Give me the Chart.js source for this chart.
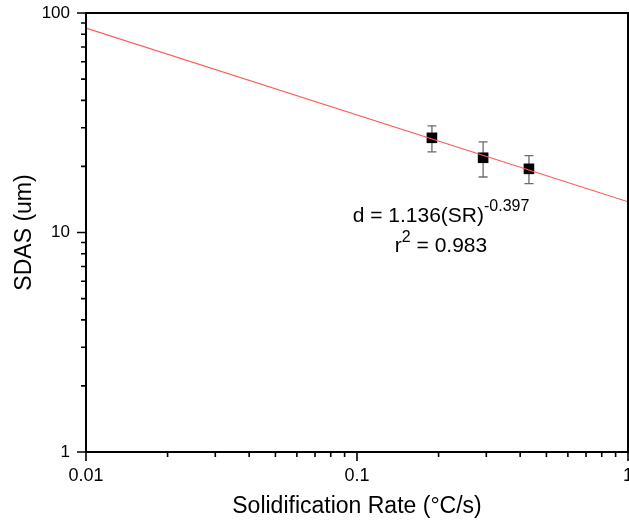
<!DOCTYPE html>
<html>
<head>
<meta charset="utf-8">
<script src="https://cdn.jsdelivr.net/npm/chart.js@4/dist/chart.umd.min.js"></script>
<style>
  html, body { margin: 0; padding: 0; background: #fff; }
  #wrap { width: 629px; height: 525px; }
</style>
</head>
<body>
<div id="wrap"><canvas id="sdasChart"></canvas></div>
<script>
// measured points
const solidRate = [0.189, 0.292, 0.431];
const sdas = [27.0, 21.9, 19.5];
const sdasHigh = [30.6, 25.9, 22.4];
const sdasLow = [23.3, 17.9, 16.7];

// fitted power-law line, end points
const fitRate = [0.01, 1];
const fitSdas = [85.4, 13.8];

const xTicks = [0.01, 0.1, 1];
const yTicks = [1, 10, 100];

const FONT = "'Liberation Sans', Arial, sans-serif";

function byId(id) {
  return document.getElementById(id);
}

function logTicks(major) {
  const out = [];
  for (let i = 0; i < major.length; i++) {
    out.push({ value: major[i], major: true });
    if (i < major.length - 1) {
      for (let k = 2; k <= 9; k++) out.push({ value: major[i] * k, major: false });
    }
  }
  return out;
}

const errorBars = {
  id: "errorBars",
  beforeDatasetsDraw(chart) {
    const { ctx, scales } = chart;
    ctx.save();
    ctx.strokeStyle = "#6b6b6b";
    ctx.lineWidth = 1.3;
    solidRate.forEach((x, i) => {
      const px = scales.x.getPixelForValue(x);
      const top = scales.y.getPixelForValue(sdasHigh[i]);
      const bot = scales.y.getPixelForValue(sdasLow[i]);
      ctx.beginPath();
      ctx.moveTo(px, top); ctx.lineTo(px, bot);
      ctx.moveTo(px - 4.5, top); ctx.lineTo(px + 4.5, top);
      ctx.moveTo(px - 4.5, bot); ctx.lineTo(px + 4.5, bot);
      ctx.stroke();
    });
    ctx.restore();
  }
};

const frameAndTicks = {
  id: "frameAndTicks",
  afterDraw(chart) {
    const { ctx, chartArea: a, scales } = chart;
    ctx.save();
    ctx.strokeStyle = "#000";
    ctx.lineWidth = 2;
    ctx.strokeRect(a.left, a.top, a.right - a.left, a.bottom - a.top);
    ctx.lineWidth = 1.6;
    ctx.beginPath();
    scales.x.ticks.forEach((t) => {
      const px = scales.x.getPixelForValue(t.value);
      ctx.moveTo(px, a.bottom);
      ctx.lineTo(px, a.bottom + (t.major ? 9 : 5));
    });
    scales.y.ticks.forEach((t) => {
      const py = scales.y.getPixelForValue(t.value);
      ctx.moveTo(a.left, py);
      ctx.lineTo(a.left - (t.major ? 9 : 5), py);
    });
    ctx.stroke();

    // fit equation
    const cx = 441;
    ctx.fillStyle = "#000";
    ctx.textBaseline = "alphabetic";
    ctx.textAlign = "left";
    ctx.font = "21px " + FONT;
    const main1 = "d = 1.136(SR)";
    const w1 = ctx.measureText(main1).width;
    ctx.font = "16px " + FONT;
    const sup1 = "-0.397";
    const ws1 = ctx.measureText(sup1).width;
    let sx = cx - (w1 + ws1) / 2;
    ctx.font = "21px " + FONT;
    ctx.fillText(main1, sx, 222);
    ctx.font = "16px " + FONT;
    ctx.fillText(sup1, sx + w1, 211);

    ctx.font = "21px " + FONT;
    const a2 = "r";
    const b2 = " = 0.983";
    const wa = ctx.measureText(a2).width;
    const wb = ctx.measureText(b2).width;
    ctx.font = "16px " + FONT;
    const ws2 = ctx.measureText("2").width;
    sx = cx - (wa + ws2 + wb) / 2;
    ctx.font = "21px " + FONT;
    ctx.fillText(a2, sx, 252);
    ctx.fillText(b2, sx + wa + ws2, 252);
    ctx.font = "16px " + FONT;
    ctx.fillText("2", sx + wa, 242);
    ctx.restore();
  }
};

new Chart(byId("sdasChart"), {
  type: "scatter",
  data: {
    datasets: [
      {
        type: "line",
        label: "Fit",
        data: fitRate.map((x, i) => ({ x, y: fitSdas[i] })),
        borderColor: "#ff5a5a",
        borderWidth: 1.2,
        pointRadius: 0,
        fill: false
      },
      {
        label: "SDAS",
        data: solidRate.map((x, i) => ({ x, y: sdas[i] })),
        pointStyle: "rect",
        pointRadius: 7.5,
        backgroundColor: "#000",
        borderColor: "#000",
        borderWidth: 0
      }
    ]
  },
  options: {
    responsive: true,
    maintainAspectRatio: false,
    animation: false,
    events: [],
    layout: { autoPadding: false, padding: { top: 13, right: 1, left: 0, bottom: 0 } },
    plugins: { legend: { display: false }, tooltip: { enabled: false } },
    scales: {
      x: {
        type: "logarithmic",
        min: xTicks[0],
        max: xTicks[xTicks.length - 1],
        afterBuildTicks: (s) => { s.ticks = logTicks(xTicks); },
        afterFit: (s) => { s.height = 73; s.paddingLeft = 0; s.paddingRight = 0; },
        grid: { display: false, drawTicks: false },
        border: { display: false },
        ticks: {
          autoSkip: false,
          maxRotation: 0,
          padding: 13,
          color: "#000",
          font: { family: FONT, size: 18 },
          callback: (v) => (xTicks.includes(v) ? String(v) : "")
        },
        title: {
          display: true,
          text: "Solidification Rate (°C/s)",
          color: "#000",
          font: { family: FONT, size: 23 },
          padding: { top: 0, bottom: 5 }
        }
      },
      y: {
        type: "logarithmic",
        min: yTicks[0],
        max: yTicks[yTicks.length - 1],
        afterBuildTicks: (s) => { s.ticks = logTicks(yTicks); },
        afterFit: (s) => { s.width = 86; s.paddingTop = 0; s.paddingBottom = 0; },
        grid: { display: false, drawTicks: false },
        border: { display: false },
        ticks: {
          autoSkip: false,
          padding: 16,
          color: "#000",
          font: { family: FONT, size: 17 },
          callback: (v) => (yTicks.includes(v) ? String(v) : "")
        },
        title: {
          display: true,
          text: "SDAS (um)",
          color: "#000",
          font: { family: FONT, size: 23 },
          padding: { top: 11, bottom: 0 }
        }
      }
    }
  },
  plugins: [errorBars, frameAndTicks]
});
</script>
</body>
</html>
